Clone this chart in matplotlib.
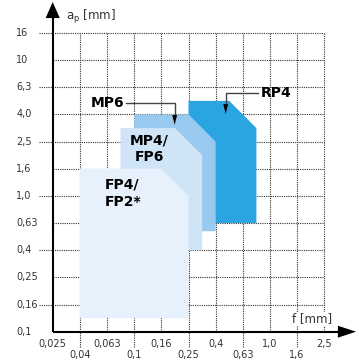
import numpy as np
import matplotlib.pyplot as plt
from matplotlib.patches import Polygon

# feed f [mm] and depth of cut ap [mm] scales (equally spaced steps)
f_ticks = ['0,025', '0,04', '0,063', '0,1', '0,16', '0,25', '0,4', '0,63', '1,0', '1,6', '2,5']
ap_ticks = ['0,1', '0,16', '0,25', '0,4', '0,63', '1,0', '1,6', '2,5', '4,0', '6,3', '10', '16']

# working areas as outlines on the step scale (f index, ap index)
grades = ['RP4', 'MP6', 'MP4/\nFP6', 'FP4/\nFP2*']
areas = {
    'RP4': [(5, 4), (7.5, 4), (7.5, 7.5), (6.5, 8.5), (5, 8.5)],
    'MP6': [(3, 3.7), (6, 3.7), (6, 7), (5, 8), (3, 8)],
    'MP4/\nFP6': [(2.5, 3), (5.5, 3), (5.5, 6.5), (4.5, 7.5), (2.5, 7.5)],
    'FP4/\nFP2*': [(1, 0.5), (5, 0.5), (5, 5), (4, 6), (1, 6)],
}
colors = {'RP4': '#2ba5e2', 'MP6': '#99c9ee', 'MP4/\nFP6': '#d0e4f7', 'FP4/\nFP2*': '#e6f1fb'}

fig = plt.figure(figsize=(3.59, 3.60), dpi=100)
ax = fig.add_axes([52.7/359, (360-331.7)/360, 271.6/359, 298.7/360])
ax.set_xlim(0, len(f_ticks)-1)
ax.set_ylim(0, len(ap_ticks)-1)
ax.axis('off')

grid_kw = dict(color='#333333', lw=0.8, ls=(0, (1, 1)), zorder=1, clip_on=False)
tick_kw = dict(fontsize=7, color='#333333', family='DejaVu Sans')
nx = len(f_ticks)-1
ny = len(ap_ticks)-1

# horizontal grid + ap labels
for j, lab in enumerate(ap_ticks):
    if j > 0:
        x0 = -0.5 if j % 2 == 1 else 0
        ax.plot([x0, nx], [j, j], **grid_kw)
    ax.text(-1.34, j, lab, ha='left', va='center', **tick_kw)

# vertical grid + f labels (two staggered rows)
for i, lab in enumerate(f_ticks):
    if i > 0:
        y0 = -0.56 if i % 2 == 1 else 0
        ax.plot([i, i], [y0, ny], **grid_kw)
    ty = -0.86 if i % 2 == 1 else -0.45
    ax.text(i, ty, lab, ha='center', va='center', **tick_kw)

# areas, widest grade on top
for z, g in enumerate(grades):
    ax.add_patch(Polygon(areas[g], closed=True, fc=colors[g], ec='none', zorder=2+z))

# axes with arrow heads
ax.plot([0, 0], [0, 11.6], color='black', lw=1.5, zorder=10, clip_on=False, solid_capstyle='butt')
ax.plot([0, 10.55], [0, 0], color='black', lw=1.5, zorder=10, clip_on=False, solid_capstyle='butt')
ax.add_patch(Polygon([(-0.26, 11.55), (0.26, 11.55), (0, 12.14)], closed=True, fc='black', ec='none', zorder=10, clip_on=False))
ax.add_patch(Polygon([(10.5, -0.22), (10.5, 0.22), (11.17, 0)], closed=True, fc='black', ec='none', zorder=10, clip_on=False))

ax.text(0.5, 11.6, r'a$_{\rm p}$ [mm]', fontsize=8.5, color='#333333', ha='left', va='center', clip_on=False)
ax.text(10.3, 0.47, 'f [mm]', fontsize=8.5, color='#333333', ha='right', va='center', zorder=11,
        bbox=dict(fc='white', ec='none', pad=0.5))

# grade labels
lab_kw = dict(fontsize=10, fontweight='bold', color='black', zorder=20)
ax.text(2.63, 8.42, 'MP6', ha='right', va='center', **lab_kw)
ax.text(7.65, 8.78, 'RP4', ha='left', va='center', **lab_kw)
ax.text(3.55, 6.73, 'MP4/\nFP6', ha='center', va='center', linespacing=1.2, **lab_kw)
ax.text(1.93, 5.1, 'FP4/\nFP2*', ha='left', va='center', linespacing=1.3, **lab_kw)

# leader arrows
arr_kw = dict(color='#444444', lw=1.0, zorder=20)
ax.plot([2.7, 4.49, 4.49], [8.41, 8.41, 7.95], **arr_kw)
ax.add_patch(Polygon([(4.4, 7.98), (4.58, 7.98), (4.49, 7.62)], closed=True, fc='black', ec='none', zorder=20))
ax.plot([7.55, 6.37, 6.37], [8.78, 8.78, 8.35], **arr_kw)
ax.add_patch(Polygon([(6.28, 8.38), (6.46, 8.38), (6.37, 8.02)], closed=True, fc='black', ec='none', zorder=20))

fig.savefig('out.png', dpi=100)
